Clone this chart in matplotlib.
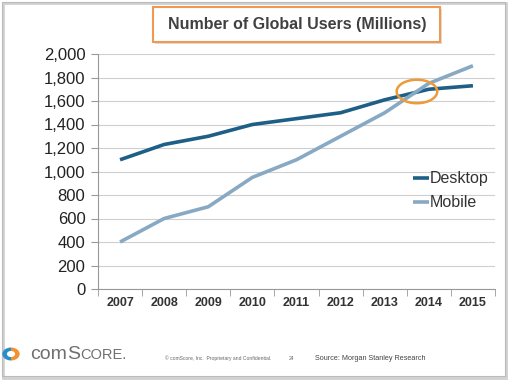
import matplotlib
matplotlib.use("Agg")
import matplotlib.pyplot as plt
from matplotlib.patches import Rectangle, Ellipse, Wedge

years = ["2007", "2008", "2009", "2010", "2011", "2012", "2013", "2014", "2015"]
desktop = [1100, 1230, 1300, 1400, 1450, 1500, 1610, 1700, 1730]
mobile = [400, 600, 700, 950, 1100, 1300, 1500, 1750, 1900]
yticks = list(range(0, 2001, 200))

plt.rcParams["font.family"] = ["Liberation Sans", "DejaVu Sans"]

W, H = 510, 382
fig = plt.figure(figsize=(W / 100, H / 100), dpi=100)
fig.patch.set_facecolor("white")

def fx(px):
    return px / W

def fy(py):
    return 1 - py / H

# slide shadow / border
fig.patches.append(Rectangle((fx(3), fy(378)), fx(503), 375 / H, transform=fig.transFigure,
                             facecolor="none", edgecolor="#d0d0d0", lw=2.0, zorder=0))
fig.patches.append(Rectangle((fx(2), fy(376)), fx(503), 374 / H, transform=fig.transFigure,
                             facecolor="none", edgecolor="#bbbbbb", lw=0.8, zorder=0))

ax = fig.add_axes([fx(98), fy(289), fx(397), 235 / H])
x = list(range(len(years)))
dcol = "#1d5f86"
mcol = "#88a9c3"
ax.plot(x, desktop, color=dcol, lw=2.6, solid_capstyle="butt", label="Desktop", zorder=3)
ax.plot(x, mobile, color=mcol, lw=2.6, solid_capstyle="butt", label="Mobile", zorder=3)

ax.set_xlim(-0.5, len(years) - 0.5)
ax.set_ylim(0, 2000)
ax.set_yticks(yticks)
ax.set_yticklabels([f"{v:,}" for v in yticks], fontsize=12, color="#222222")
ax.set_xticks(x)
ax.set_xticklabels(years, fontsize=9, fontweight="bold", color="#333333")
ax.set_xticks([i - 0.5 for i in range(len(years) + 1)], minor=True)
ax.tick_params(axis="x", which="major", length=0, pad=6)
ax.tick_params(axis="x", which="minor", length=5, color="#999999")
ax.tick_params(axis="y", length=5, color="#999999", pad=4)
ax.grid(axis="y", color="#cfcfcf", lw=0.8)
ax.set_axisbelow(True)
for s in ["top", "right"]:
    ax.spines[s].set_visible(False)
for s in ["left", "bottom"]:
    ax.spines[s].set_color("#999999")
    ax.spines[s].set_linewidth(0.8)

ax.add_patch(Ellipse((6.73, 1681), 0.92, 200, facecolor="none", edgecolor="#ee9a3a", lw=1.8, zorder=4))

leg = ax.legend(loc="upper left", bbox_to_anchor=(0.777, 0.528), frameon=False, fontsize=11.5,
                handlelength=1.0, handletextpad=0.05, labelspacing=0.55, borderaxespad=0)
for t in leg.get_texts():
    t.set_color("#333333")

# title box
fig.patches.append(Rectangle((fx(155), fy(44)), fx(287), 35 / H, transform=fig.transFigure,
                             facecolor="#dddddd", edgecolor="none", zorder=1))
fig.patches.append(Rectangle((fx(153), fy(42)), fx(287), 35 / H, transform=fig.transFigure,
                             facecolor="white", edgecolor="#ee9a52", lw=1.5, zorder=1))
fig.text(fx(297), fy(24), "Number of Global Users (Millions)", ha="center", va="center",
         fontsize=11.5, fontweight="bold", color="#404040")

# footer
fig.patches.append(Wedge((fx(11), fy(354)), 0.017, 90, 270, width=0.009, transform=fig.transFigure,
                         facecolor="#2a8fc7", edgecolor="none"))
fig.patches.append(Wedge((fx(11), fy(354)), 0.017, -90, 90, width=0.009, transform=fig.transFigure,
                         facecolor="#f0922f", edgecolor="none"))
base = fy(359)
t1 = fig.text(fx(30), base, "com", ha="left", va="baseline", fontsize=14, color="#707070")
fig.canvas.draw()
r = fig.canvas.get_renderer()
e1 = t1.get_window_extent(r)
t2 = fig.text(e1.x1 / fig.bbox.width, base, "S", ha="left", va="baseline", fontsize=14, color="#707070")
e2 = t2.get_window_extent(r)
fig.text(e2.x1 / fig.bbox.width, base, "CORE.", ha="left", va="baseline", fontsize=10.5, color="#707070")

fig.text(fx(165), fy(358), "© comScore, Inc.  Proprietary and Confidential.", ha="left", va="center",
         fontsize=3.6, color="#666666")
fig.text(fx(289), fy(358), "24", ha="left", va="center", fontsize=3.6, color="#666666")
fig.text(fx(315), fy(358), "Source: Morgan Stanley Research", ha="left", va="center",
         fontsize=5.2, color="#444444")

fig.savefig("out.png", dpi=100)
